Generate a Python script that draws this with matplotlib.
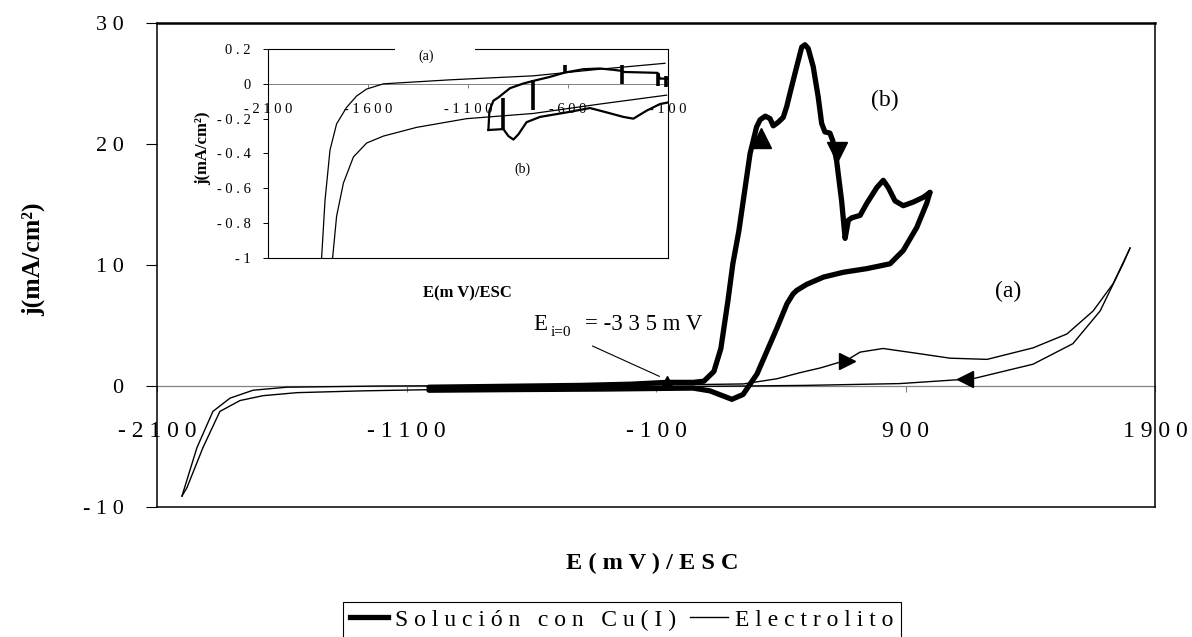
import matplotlib
matplotlib.use("Agg")
import matplotlib.pyplot as plt
from matplotlib.lines import Line2D
from matplotlib.patches import Rectangle

plt.rcParams["font.family"] = ["Liberation Serif", "DejaVu Serif"]

W, H = 1192, 637


def fx(px):
    return px / W


def fy(py):
    return 1 - py / H


def spaced(s, gap=" "):
    return gap.join(s)


# ---- voltammograms, E in mV vs ESC, j in mA/cm2 ----
# (b) solution with Cu(I): anodic sweep then return
cu_fwd_E = [-1010, -800, -600, -400, -200, -56, 50, 92, 132, 160, 188, 208, 232, 277,
            290, 303, 317, 338, 357, 370, 390, 410, 424, 437, 464, 484, 497, 510, 530,
            550, 564, 577, 597, 608, 624, 644, 658, 671, 685, 718, 745, 785, 811, 831,
            858, 891, 931, 972, 998]
cu_fwd_j = [-0.1, -0.05, 0.0, 0.05, 0.15, 0.3, 0.3, 0.4, 1.2, 3.1, 7.0, 10.1, 12.8, 19.2,
            20.3, 21.4, 22.0, 22.3, 22.1, 21.5, 21.8, 22.2, 23.1, 24.2, 26.4, 28.0, 28.2,
            27.9, 26.4, 23.9, 21.7, 21.0, 20.9, 20.3, 18.6, 15.3, 12.2, 13.7, 13.9, 14.1,
            15.1, 16.4, 17.0, 16.4, 15.3, 14.9, 15.2, 15.6, 16.0]
cu_rev_E = [998, 985, 945, 891, 838, 745, 651, 571, 504, 464, 449, 425, 385, 345, 305,
            277, 249, 204, 116, 48, -300, -700, -1010]
cu_rev_j = [16.0, 15.1, 13.1, 11.2, 10.1, 9.7, 9.4, 9.0, 8.4, 7.9, 7.6, 6.8, 4.8, 2.9, 1.0,
            0.15, -0.7, -1.1, -0.4, -0.17, -0.25, -0.3, -0.35]

# (a) supporting electrolyte
el_fwd_E = [-2000, -1940, -1876, -1807, -1715, -1580, -1200, -600, 0, 250, 385, 477, 560,
            666, 718, 810, 946, 1078, 1227, 1411, 1547, 1652, 1732, 1800]
el_fwd_j = [-9.1, -5.1, -2.1, -1.0, -0.35, -0.1, 0.0, 0.05, 0.1, 0.17, 0.6, 1.1, 1.5,
            2.15, 2.8, 3.1, 2.7, 2.3, 2.2, 3.15, 4.3, 6.2, 8.45, 11.4]
el_rev_E = [1800, 1772, 1680, 1571, 1411, 1170, 878, 500, 0, -600, -1000, -1274, -1539,
            -1675, -1767, -1848, -1916, -1980, -2000]
el_rev_j = [11.4, 10.1, 6.2, 3.5, 1.8, 0.6, 0.2, 0.05, -0.05, -0.2, -0.3, -0.4, -0.55,
            -0.8, -1.2, -2.1, -5.1, -8.4, -9.1]

# sweep direction arrows
arrow_E = [320, 625, 664, 1138]
arrow_j = [20.5, 19.3, 2.1, 0.6]
arrow_mk = ["^", "v", ">", "<"]
arrow_ms = [14, 14, 12, 12]

# zero-current potential
e0_E, e0_j = -56, 0.4

main_xticks = [-2100, -1100, -100, 900, 1900]
main_yticks = [-10, 0, 10, 20, 30]

# ---- inset: low-current detail ----
in_el_up_E = [-1832, -1815, -1790, -1757, -1707, -1657, -1607, -1523, -1190, -773, -440, -115]
in_el_up_j = [-1.0, -0.67, -0.38, -0.23, -0.135, -0.07, -0.03, 0.0, 0.023, 0.046, 0.084, 0.118]
in_el_lo_E = [-1777, -1757, -1723, -1673, -1607, -1523, -1357, -1107, -773, -440, -107]
in_el_lo_j = [-1.0, -0.76, -0.57, -0.42, -0.34, -0.30, -0.25, -0.2, -0.17, -0.116, -0.065]

in_cu_up_E = [-998, -993, -973, -948, -890, -823, -773, -690, -615, -523, -440, -370,
              -335, -320, -250, -152, -140, -100]
in_cu_up_j = [-0.265, -0.154, -0.097, -0.078, -0.025, 0.002, 0.017, 0.04, 0.065, 0.084,
              0.088, 0.08, 0.075, 0.068, 0.066, 0.063, 0.03, 0.03]
in_cu_lo_E = [-998, -923, -898, -873, -848, -807, -740, -607, -490, -407, -323, -273,
              -207, -140, -100]
in_cu_lo_j = [-0.265, -0.26, -0.3, -0.32, -0.29, -0.22, -0.19, -0.164, -0.139, -0.164,
              -0.19, -0.2, -0.154, -0.116, -0.107]
# current jumps recorded on the Cu(I) trace
spike_E = [-923, -773, -615, -330, -150, -108]
spike_lo = [-0.26, -0.15, 0.06, 0.0, -0.01, -0.02]
spike_hi = [-0.08, 0.02, 0.11, 0.11, 0.065, 0.045]

in_xticks = [-2100, -1600, -1100, -600, -100]
in_yticks = [0.2, 0, -0.2, -0.4, -0.6, -0.8, -1]

fig = plt.figure(figsize=(W / 100, H / 100), dpi=100)

# ---------------- main axes ----------------
ax = fig.add_axes([fx(157), fy(507), fx(1155) - fx(157), fy(23) - fy(507)])
ax.set_xlim(-2100, 1900)
ax.set_ylim(-10, 30)
for s in ax.spines.values():
    s.set_color("black")
    s.set_linewidth(1.1)
ax.spines["top"].set_linewidth(1.8)
ax.set_xticks([])
ax.set_yticks(main_yticks, labels=[spaced(str(v)) for v in main_yticks])
ax.tick_params(axis="y", direction="out", length=8, width=0.8, pad=16, labelsize=16)

zero_ax = ax.secondary_xaxis(0.25)
zero_ax.spines["bottom"].set_color("#808080")
zero_ax.spines["bottom"].set_linewidth(0.9)
zero_ax.set_xticks(main_xticks, labels=[spaced(str(v)) for v in main_xticks])
zero_ax.tick_params(axis="x", direction="out", length=4, width=0.8, color="#808080",
                    pad=21.5, labelsize=17)

ax.plot(el_fwd_E, el_fwd_j, color="black", lw=1.0)
ax.plot(el_rev_E, el_rev_j, color="black", lw=1.0)
ax.plot(cu_fwd_E, cu_fwd_j, color="black", lw=3.8, solid_joinstyle="round",
        solid_capstyle="round")
ax.plot(cu_rev_E, cu_rev_j, color="black", lw=3.8, solid_joinstyle="round",
        solid_capstyle="round")
for e, j, m, ms in zip(arrow_E, arrow_j, arrow_mk, arrow_ms):
    ax.plot(e, j, marker=m, ms=ms, color="black", zorder=4)
ax.plot(e0_E, e0_j, marker="^", ms=7, color="black", zorder=4)

# pointer to the zero-current potential
ax.annotate("", xy=(e0_E - 20, e0_j + 0.3), xytext=(-365, 3.4),
            arrowprops=dict(arrowstyle="-", color="black", lw=0.8))
fig.text(fx(533), fy(325), "E", fontsize=16.5, ha="left", va="center")
fig.text(fx(551), fy(332), "i=0", fontsize=11, ha="left", va="center")
fig.text(fx(585), fy(325), "= -3 3 5 m V", fontsize=16.5, ha="left", va="center")

fig.text(fx(885), fy(100), "(b)", fontsize=17, ha="center", va="center")
fig.text(fx(1008), fy(291), "(a)", fontsize=17, ha="center", va="center")

fig.text(fx(33), fy(259), "j(mA/cm\u00b2)", fontsize=18.5, fontweight="bold",
         rotation=90, ha="center", va="center")
fig.text(fx(652), fy(563), "E ( m V ) / E S C", fontsize=17.5, fontweight="bold",
         ha="center", va="center")

leg = fig.legend(handles=[Line2D([], [], color="black", lw=3.8),
                          Line2D([], [], color="black", lw=1.0)],
                 labels=[spaced("Solución con Cu(I)"), spaced("Electrolito")],
                 loc="upper left", bbox_to_anchor=(fx(343), fy(602)), ncol=2,
                 frameon=True, fancybox=False, edgecolor="black", framealpha=1,
                 prop={"size": 17}, handlelength=1.6, handletextpad=0.3,
                 columnspacing=0.6, borderpad=0.3, borderaxespad=0)
leg.get_frame().set_linewidth(0.8)

# ---------------- inset ----------------
axi = fig.add_axes([fx(268), fy(258), fx(668) - fx(268), fy(49) - fy(258)])
axi.set_xlim(-2100, -100)
axi.set_ylim(-1, 0.2)
for s in axi.spines.values():
    s.set_color("black")
    s.set_linewidth(0.8)
axi.set_xticks([])
axi.set_yticks(in_yticks, labels=[spaced(str(v)) for v in in_yticks])
axi.tick_params(axis="y", direction="out", length=3.5, width=0.7, pad=9, labelsize=10.5)

in_zero = axi.secondary_xaxis(1 / 1.2)
in_zero.set_alignment("bottom")
in_zero.spines["bottom"].set_color("#808080")
in_zero.spines["bottom"].set_linewidth(0.7)
in_zero.set_xticks(in_xticks, labels=[spaced(str(v)) for v in in_xticks])
in_zero.tick_params(axis="x", direction="out", length=3, width=0.7, color="#808080",
                    pad=11, labelsize=10.5)

axi.plot(in_el_up_E, in_el_up_j, color="black", lw=0.9)
axi.plot(in_el_lo_E, in_el_lo_j, color="black", lw=0.9)
axi.plot(in_cu_up_E, in_cu_up_j, color="black", lw=1.6)
axi.plot(in_cu_lo_E, in_cu_lo_j, color="black", lw=1.6)
axi.vlines(spike_E, spike_lo, spike_hi, color="black", lw=2.6)

# gap in the top border for the curve label
axi.add_patch(Rectangle((0.3175, 0.985), 0.2, 0.03, transform=axi.transAxes,
                        facecolor="white", edgecolor="none", clip_on=False, zorder=3))
fig.text(fx(426), fy(56), "(a)", fontsize=10, ha="center", va="center", zorder=5)
fig.text(fx(522), fy(169), "(b)", fontsize=10, ha="center", va="center")

fig.text(fx(203), fy(148), "j(mA/cm\u00b2)", fontsize=12, fontweight="bold",
         rotation=90, ha="center", va="center")
fig.text(fx(467), fy(293), "E(m V)/ESC", fontsize=12, fontweight="bold",
         ha="center", va="center")

fig.savefig("out.png", dpi=100)
